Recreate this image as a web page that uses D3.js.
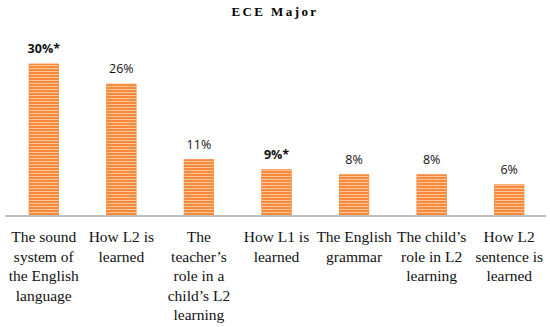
<!DOCTYPE html>
<html>
<head>
<meta charset="utf-8">
<script src="https://cdn.jsdelivr.net/npm/d3@7"></script>
<style>
  body { margin: 0; background: #fff; }
  svg { display: block; }
</style>
</head>
<body>
<div id="chart"></div>
<script>
  // chart data
  var categories = [
    ['The sound', 'system of', 'the English', 'language'],
    ['How L2 is', 'learned'],
    ['The', 'teacher\u2019s', 'role in a', 'child\u2019s L2', 'learning'],
    ['How L1 is', 'learned'],
    ['The English', 'grammar'],
    ['The child\u2019s', 'role in L2', 'learning'],
    ['How L2', 'sentence is', 'learned']
  ];
  var values = [30, 26, 11, 9, 8, 8, 6];
  var valueLabels = ['30%*', '26%', '11%', '9%*', '8%', '8%', '6%'];
  var boldLabels = [true, false, false, true, false, false, false];

  var width = 550,
    height = 327,
    baseY = 215;

  var svg = d3.select('#chart').append('svg')
    .attr('width', width)
    .attr('height', height);

  // striped fill for the bars
  var pat = svg.append('defs').append('pattern')
    .attr('id', 'stripes')
    .attr('patternUnits', 'userSpaceOnUse')
    .attr('width', 6)
    .attr('height', 3);
  pat.append('rect').attr('width', 6).attr('height', 3).attr('fill', '#fcc79c');
  pat.append('rect').attr('width', 6).attr('height', 2).attr('fill', '#f7893a');

  var x = d3.scaleBand()
    .domain(d3.range(values.length))
    .range([5, 548])
    .paddingInner(0.62)
    .paddingOuter(0.31);

  var y = d3.scaleLinear()
    .domain([0, 30])
    .range([baseY, 64]);

  svg.append('text')
    .attr('x', 275)
    .attr('y', 16)
    .attr('text-anchor', 'middle')
    .style('font-family', '"Liberation Serif", serif')
    .style('font-weight', 'bold')
    .style('font-size', '13px')
    .style('letter-spacing', '2.4px')
    .text('ECE Major');

  var bars = svg.append('g');

  bars.selectAll('rect')
    .data(values)
    .enter()
    .append('rect')
    .attr('x', function (d, i) { return x(i); })
    .attr('y', function (d) { return y(d); })
    .attr('width', x.bandwidth())
    .attr('height', function (d) { return baseY - y(d); })
    .attr('fill', 'url(#stripes)')
    .attr('stroke', '#f7893a')
    .attr('stroke-width', 0.8);

  bars.selectAll('text.val')
    .data(values)
    .enter()
    .append('text')
    .attr('class', 'val')
    .attr('x', function (d, i) { return x(i) + x.bandwidth() / 2; })
    .attr('y', function (d) { return y(d) - 11; })
    .attr('text-anchor', 'middle')
    .style('font-family', '"Open Sans", sans-serif')
    .style('font-size', '12.5px')
    .style('font-weight', function (d, i) { return boldLabels[i] ? 'bold' : 'normal'; })
    .attr('fill', '#111')
    .text(function (d, i) { return valueLabels[i]; });

  // axis line
  svg.append('line')
    .attr('x1', 5)
    .attr('x2', 546)
    .attr('y1', baseY + 1)
    .attr('y2', baseY + 1)
    .attr('stroke', '#bfbfbf')
    .attr('stroke-width', 2);

  var cats = svg.append('g').selectAll('text')
    .data(categories)
    .enter()
    .append('text')
    .attr('text-anchor', 'middle')
    .style('font-family', '"Liberation Serif", serif')
    .style('font-size', '15.5px')
    .attr('fill', '#111');

  cats.selectAll('tspan')
    .data(function (d, i) { return d.map(function (s) { return { s: s, i: i }; }); })
    .enter()
    .append('tspan')
    .attr('x', function (d) { return x(d.i) + x.bandwidth() / 2; })
    .attr('y', function (d, j) { return 242 + j * 19.5; })
    .text(function (d) { return d.s; });
</script>
</body>
</html>
